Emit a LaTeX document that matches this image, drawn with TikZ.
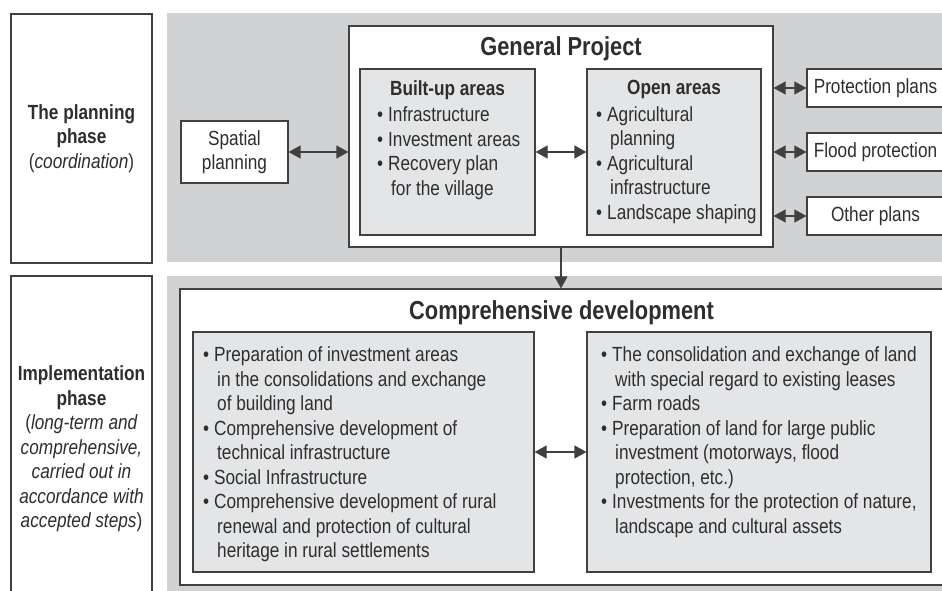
\documentclass[tikz,border=0pt]{standalone}
\usepackage{fontspec}
\setmainfont{Liberation Sans}[FakeStretch=0.84]
\usetikzlibrary{arrows.meta,positioning}
\definecolor{panelgray}{HTML}{D1D2D4}
\definecolor{boxgray}{HTML}{E4E5E7}
\definecolor{linegray}{HTML}{404040}
\definecolor{txtgray}{HTML}{2E2E2E}
\newcommand{\bl}{\makebox[11pt][l]{\textbullet}}
\newcommand{\cn}{\hspace*{14pt}}

\begin{document}
\begin{tikzpicture}[x=1pt,y=-1pt,>={Triangle[length=12pt,width=13pt]},
  every node/.style={text=txtgray,inner sep=0pt,font=\fontsize{20.5}{24.5}\selectfont},
  box/.style={draw=linegray,line width=1.2pt,fill=white},
  graybox/.style={box,fill=boxgray},
  hd/.style={font=\fontsize{26}{30}\selectfont\bfseries},
  subhd/.style={font=\fontsize{20.5}{24.5}\selectfont\bfseries},
  lst/.style={align=left,anchor=west},
  conn/.style={<->,draw=linegray,line width=1.2pt}]
  \useasboundingbox (0,0) rectangle (942,590);
  % background panels
  \fill[panelgray] (167,13) rectangle (950,262);
  \fill[panelgray] (167,276) rectangle (950,600);

  % phases
  \node[box,align=center,minimum width=141pt,minimum height=249pt] (plan) at (81.5,138.5)
    {\textbf{The planning}\\\textbf{phase}\\(\textit{coordination})};
  \node[box,align=center,minimum width=141pt,minimum height=346pt] (impl) at (81.5,449)
    {\textbf{Implementation}\\\textbf{phase}\\(\textit{long-term and}\\\textit{comprehensive,}\\
     \textit{carried out in}\\\textit{accordance with}\\\textit{accepted steps})};

  % planning
  \node[box,align=center,minimum width=107pt,minimum height=62pt] (sp) at (234.5,152) {Spatial\\planning};
  \node[box,minimum width=424pt,minimum height=221pt] (gp) at (561,136.5) {};
  \node[hd,below=11pt of gp.north] (gptitle) {General Project};
  \node[graybox,minimum width=175pt,minimum height=166pt] (bu) at (447.5,152) {};
  \node[subhd,below=12pt of bu.north] (butitle) {Built-up areas};
  \node[lst] (bulist) at (377,153)
    {\bl Infrastructure\\\bl Investment areas\\\bl Recovery plan\\\cn for the village};
  \node[graybox,minimum width=174pt,minimum height=166pt] (op) at (674,152) {};
  \node[subhd,below=12pt of op.north] (optitle) {Open areas};
  \node[lst] (oplist) at (596,165)
    {\bl Agricultural\\\cn planning\\\bl Agricultural\\\cn infrastructure\\\bl Landscape shaping};

  \node[box,minimum width=137pt,minimum height=38pt] (pp) at (875.5,88) {Protection plans};
  \node[box,minimum width=137pt,minimum height=38pt] (fp) at (875.5,152) {Flood protection};
  \node[box,minimum width=137pt,minimum height=38pt] (opl) at (875.5,216) {Other plans};

  % implementation
  \node[box,minimum width=763pt,minimum height=296pt] (cd) at (561.5,437) {};
  \node[hd,below=12pt of cd.north] (cdtitle) {Comprehensive development};
  \node[graybox,minimum width=341pt,minimum height=240pt] (cl) at (363.5,452) {};
  \node[lst] (cllist) at (203,454.5)
    {\bl Preparation of investment areas\\\cn in the consolidations and exchange\\\cn of building land\\
     \bl Comprehensive development of\\\cn technical infrastructure\\\bl Social Infrastructure\\
     \bl Comprehensive development of rural\\\cn renewal and protection of cultural\\\cn heritage in rural settlements};
  \node[graybox,minimum width=344pt,minimum height=240pt] (cr) at (759,452) {};
  \node[lst] (crlist) at (601,442)
    {\bl The consolidation and exchange of land\\\cn with special regard to existing leases\\\bl Farm roads\\
     \bl Preparation of land for large public\\\cn investment (motorways, flood\\\cn protection, etc.)\\
     \bl Investments for the protection of nature,\\\cn landscape and cultural assets};

  % connectors
  \draw[conn] (sp) -- (gp.west |- sp);
  \draw[conn] (bu) -- (op);
  \draw[conn] (gp.east |- pp) -- (pp);
  \draw[conn] (gp.east |- fp) -- (fp);
  \draw[conn] (gp.east |- opl) -- (opl);
  \draw[conn,->] (gp.south) -- (gp.south |- cd.north);
  \draw[conn] (cl) -- (cr);
\end{tikzpicture}
\end{document}
